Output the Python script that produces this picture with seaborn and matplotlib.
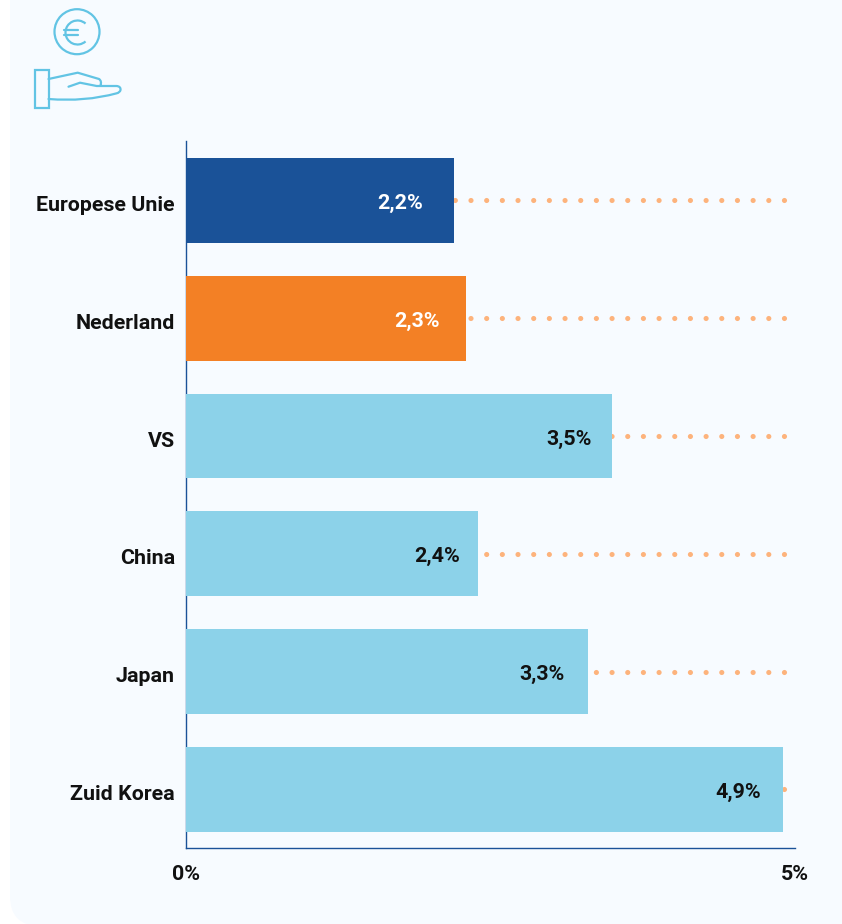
import numpy as np
import pandas as pd
import matplotlib
matplotlib.use('Agg')
import matplotlib.pyplot as plt
import seaborn as sns
from matplotlib.patches import Arc, Circle, FancyBboxPatch, PathPatch, Rectangle
from matplotlib.path import Path
from matplotlib.transforms import ScaledTranslation

# Data
countries = ['Europese Unie', 'Nederland', 'VS', 'China', 'Japan', 'Zuid Korea']
values = [2.2, 2.3, 3.5, 2.4, 3.3, 4.9]
value_labels = ['2,2%', '2,3%', '3,5%', '2,4%', '3,3%', '4,9%']
x_ticks = [0, 5]
x_tick_labels = ['0%', '5%']

# Styling per bar
bar_colors = ['#1A5298', '#F38025', '#8CD2E9', '#8CD2E9', '#8CD2E9', '#8CD2E9']
text_colors = ['white', 'white', '#111111', '#111111', '#111111', '#111111']
label_gaps = [30.5, 26.5, 20.5, 18.5, 23.5, 21.5]

W, H = 842, 924
BG = '#F7FBFF'
LINE = '#1A5298'
ICON = '#62C4E4'
FS = 15.4

sns.set_theme(style='white')
plt.rcParams['font.family'] = ['Roboto', 'DejaVu Sans']

fig = plt.figure(figsize=(W / 100, H / 100), dpi=100, facecolor='white')

# Rounded panel behind everything, in pixel coordinates
bg = fig.add_axes([0, 0, 1, 1])
bg.set_xlim(0, W)
bg.set_ylim(H, 0)
bg.axis('off')
bg.add_patch(FancyBboxPatch((10, -60), 900, 986, boxstyle='round,pad=0,rounding_size=30',
                            fc=BG, ec=BG, lw=0))

# Bar chart
ax = fig.add_axes([186 / W, 1 - 848 / H, (795 - 186) / W, (848 - 141) / H])
ax.patch.set_alpha(0)
df = pd.DataFrame({'land': countries, 'groei': values})
sns.barplot(data=df, x='groei', y='land', hue='land', palette=bar_colors, legend=False,
            width=0.72, saturation=1, linewidth=0, ax=ax, zorder=3)
ax.set_xlim(0, 5)
ax.set_ylim(5.497, -0.505)
ax.set_xlabel('')
ax.set_ylabel('')

# Dotted guide lines run from the right, the bars sit on top of them
for i in range(len(countries)):
    ax.plot([4.907, 0], [i, i], color='#FDB37C', lw=3.7, zorder=2,
            linestyle=(0, (0.01, 3.04)), dash_capstyle='round')

# Value labels inside the bars
for i, (v, lab) in enumerate(zip(values, value_labels)):
    ax.annotate(lab, (v, i), xytext=(-label_gaps[i] * 0.72, -2.2), textcoords='offset points',
                ha='right', va='center', fontsize=FS, fontweight='bold',
                color=text_colors[i], zorder=4)

for side in ['top', 'right']:
    ax.spines[side].set_visible(False)
for side in ['left', 'bottom']:
    ax.spines[side].set_color(LINE)
    ax.spines[side].set_linewidth(1.0)
    ax.spines[side].set_zorder(1)

ax.set_xticks(x_ticks)
ax.set_xticklabels(x_tick_labels, fontsize=FS, fontweight='bold', color='#111111')
ax.tick_params(axis='x', length=0, pad=12)
ax.tick_params(axis='y', length=0, pad=8)
shift = ScaledTranslation(0, -3 / 100, fig.dpi_scale_trans)
for t in ax.get_yticklabels():
    t.set_fontsize(FS)
    t.set_fontweight('bold')
    t.set_color('#111111')
    t.set_transform(t.get_transform() + shift)

# Euro-in-hand icon
lw_icon = 1.6
bg.add_patch(Circle((77, 31.7), 22.5, fc='none', ec=ICON, lw=lw_icon))
bg.add_patch(Arc((77.5, 32.5), 24, 24, theta1=48, theta2=312, ec=ICON, lw=lw_icon))
bg.plot([63.5, 78], [29.5, 29.5], color=ICON, lw=lw_icon)
bg.plot([63.5, 78], [35, 35], color=ICON, lw=lw_icon)
bg.add_patch(Rectangle((34.5, 70), 14, 38, fc='none', ec=ICON, lw=lw_icon))
hand = Path([(48.5, 79), (77.7, 72.7), (99, 79), (102, 81), (100.5, 85.5),
             (68.5, 86.7), (80, 82.7), (96.7, 86), (116.7, 86), (121, 86.5), (120.5, 90), (120, 92.5), (116.7, 93.3),
             (85, 102), (48.5, 99)],
            [Path.MOVETO, Path.LINETO, Path.LINETO, Path.CURVE3, Path.CURVE3,
             Path.MOVETO, Path.LINETO, Path.LINETO, Path.LINETO, Path.CURVE3, Path.CURVE3, Path.CURVE3, Path.CURVE3,
             Path.CURVE3, Path.CURVE3])
bg.add_patch(PathPatch(hand, fc='none', ec=ICON, lw=lw_icon, capstyle='round', joinstyle='round'))

fig.savefig('out.png', dpi=100)
